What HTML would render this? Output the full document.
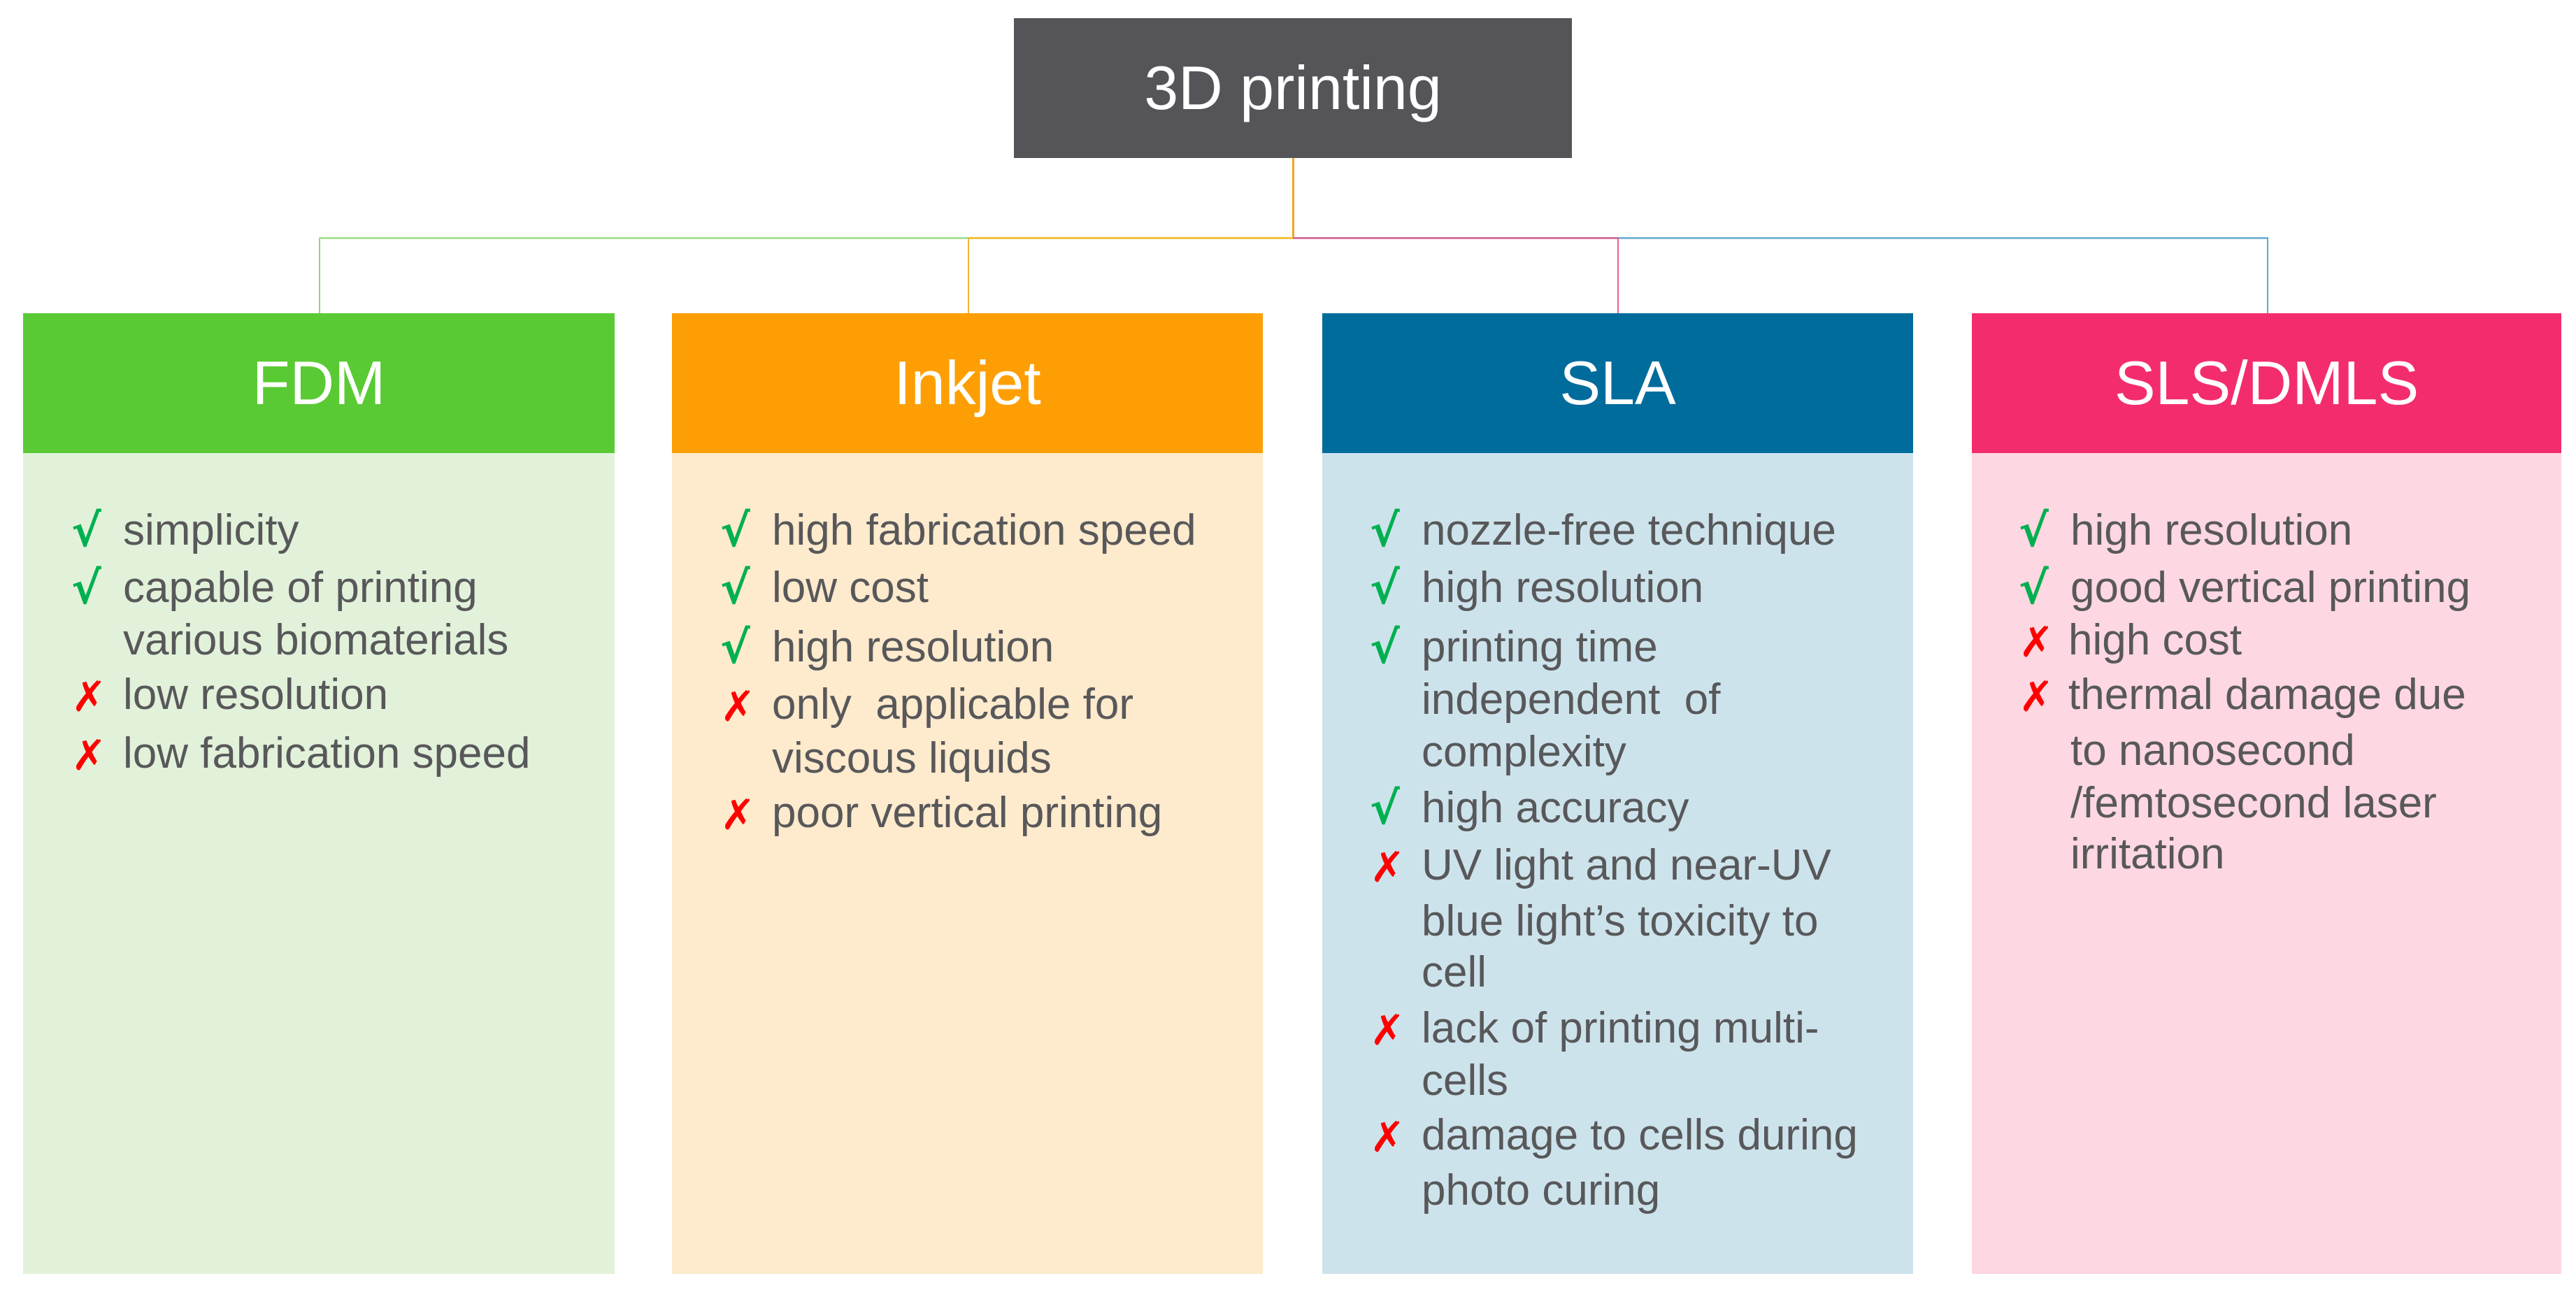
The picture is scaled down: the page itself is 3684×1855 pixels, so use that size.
<!DOCTYPE html>
<html><head><meta charset="utf-8"><style>
html,body{margin:0;padding:0;background:#fff;width:3684px;height:1855px;overflow:hidden;position:relative;font-family:"Liberation Sans",sans-serif}
.a{position:absolute}
.hd{position:absolute;top:448px;height:200px;color:#fff;font-size:88px;display:flex;align-items:center;justify-content:center}
.bd{position:absolute;top:648px;height:1174px}
.t{position:absolute;font-size:62px;line-height:58px;color:#58585a;white-space:nowrap;margin-top:-3px}
.m{position:absolute;font-size:64px;line-height:58px;font-weight:bold;font-family:"DejaVu Sans",sans-serif}
.ok{color:#00b050}
.no{color:#ff0000;font-size:60px}
.ln{position:absolute}
</style></head><body>
<div class="a" style="left:1450px;top:26px;width:798px;height:200px;background:#555459;color:#fff;font-size:88px;display:flex;align-items:center;justify-content:center">3D printing</div>
<div class="ln" style="left:1848px;top:226px;width:3px;height:116px;background:#f3a623"></div>
<div class="ln" style="left:457px;top:339px;width:928px;height:3px;background:#a8e295"></div>
<div class="ln" style="left:1385px;top:339px;width:464px;height:3px;background:#f0c23e"></div>
<div class="ln" style="left:1849px;top:339px;width:465px;height:3px;background:#d670a0"></div>
<div class="ln" style="left:2314px;top:339px;width:930px;height:3px;background:#7ab8d6"></div>
<div class="ln" style="left:456px;top:340px;width:2px;height:108px;background:#8fd878"></div>
<div class="ln" style="left:1384px;top:340px;width:2px;height:108px;background:#f2b23a"></div>
<div class="ln" style="left:2313px;top:340px;width:2px;height:108px;background:#ef5d8f"></div>
<div class="ln" style="left:3242px;top:340px;width:2px;height:108px;background:#5aaad0"></div>

<div class="hd" style="left:33px;width:846px;background:#5aca34">FDM</div>
<div class="bd" style="left:33px;width:846px;background:#e2f2da"></div>
<div class="hd" style="left:961px;width:845px;background:#fd9f04">Inkjet</div>
<div class="bd" style="left:961px;width:845px;background:#feeacd"></div>
<div class="hd" style="left:1891px;width:845px;background:#006c9c">SLA</div>
<div class="bd" style="left:1891px;width:845px;background:#cde3ec"></div>
<div class="hd" style="left:2820px;width:843px;background:#f32d6d">SLS/DMLS</div>
<div class="bd" style="left:2820px;width:843px;background:#fdd7e1"></div>

<div class="m ok" style="left:102px;top:731px">√</div><div class="t" style="left:176px;top:733px">simplicity</div>
<div class="m ok" style="left:102px;top:813px">√</div><div class="t" style="left:176px;top:815px">capable of printing</div>
<div class="t" style="left:176px;top:890px">various biomaterials</div>
<div class="m no" style="left:102px;top:968px">✗</div><div class="t" style="left:176px;top:968px">low resolution</div>
<div class="m no" style="left:102px;top:1052px">✗</div><div class="t" style="left:176px;top:1052px">low fabrication speed</div>

<div class="m ok" style="left:1030px;top:731px">√</div><div class="t" style="left:1104px;top:733px">high fabrication speed</div>
<div class="m ok" style="left:1030px;top:813px">√</div><div class="t" style="left:1104px;top:815px">low cost</div>
<div class="m ok" style="left:1030px;top:898px">√</div><div class="t" style="left:1104px;top:900px">high resolution</div>
<div class="m no" style="left:1030px;top:982px">✗</div><div class="t" style="left:1104px;top:982px">only&nbsp; applicable for</div>
<div class="t" style="left:1104px;top:1059px">viscous liquids</div>
<div class="m no" style="left:1030px;top:1137px">✗</div><div class="t" style="left:1104px;top:1137px">poor vertical printing</div>

<div class="m ok" style="left:1959px;top:731px">√</div><div class="t" style="left:2033px;top:733px">nozzle-free technique</div>
<div class="m ok" style="left:1959px;top:813px">√</div><div class="t" style="left:2033px;top:815px">high resolution</div>
<div class="m ok" style="left:1959px;top:898px">√</div><div class="t" style="left:2033px;top:900px">printing time</div>
<div class="t" style="left:2033px;top:975px">independent&nbsp; of</div>
<div class="t" style="left:2033px;top:1050px">complexity</div>
<div class="m ok" style="left:1959px;top:1128px">√</div><div class="t" style="left:2033px;top:1130px">high accuracy</div>
<div class="m no" style="left:1959px;top:1212px">✗</div><div class="t" style="left:2033px;top:1212px">UV light and near-UV</div>
<div class="t" style="left:2033px;top:1292px">blue light’s toxicity to</div>
<div class="t" style="left:2033px;top:1365px">cell</div>
<div class="m no" style="left:1959px;top:1445px">✗</div><div class="t" style="left:2033px;top:1445px">lack of printing multi-</div>
<div class="t" style="left:2033px;top:1520px">cells</div>
<div class="m no" style="left:1959px;top:1598px">✗</div><div class="t" style="left:2033px;top:1598px">damage to cells during</div>
<div class="t" style="left:2033px;top:1677px">photo curing</div>

<div class="m ok" style="left:2887px;top:731px">√</div><div class="t" style="left:2961px;top:733px">high resolution</div>
<div class="m ok" style="left:2887px;top:813px">√</div><div class="t" style="left:2961px;top:815px">good vertical printing</div>
<div class="m no" style="left:2887px;top:890px">✗</div><div class="t" style="left:2958px;top:890px">high cost</div>
<div class="m no" style="left:2887px;top:968px">✗</div><div class="t" style="left:2958px;top:968px">thermal damage due</div>
<div class="t" style="left:2961px;top:1048px">to nanosecond</div>
<div class="t" style="left:2961px;top:1123px">/femtosecond laser</div>
<div class="t" style="left:2961px;top:1196px">irritation</div>
</body></html>
